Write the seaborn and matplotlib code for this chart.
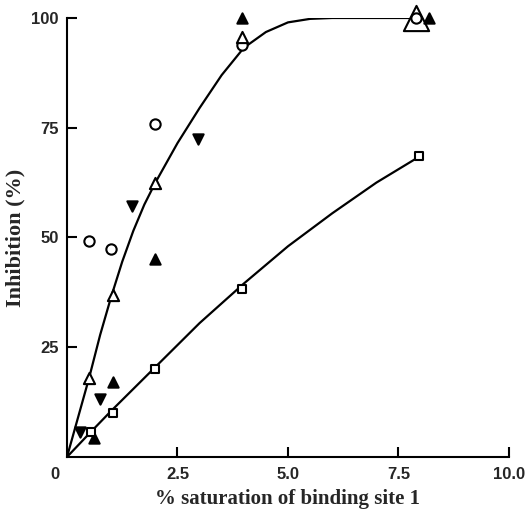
import numpy as np
import pandas as pd
import matplotlib
matplotlib.use('Agg')
import matplotlib.pyplot as plt
import matplotlib.transforms as mtransforms
import seaborn as sns

# ---------- data ----------
open_circle_x = [0.5, 1.0, 2.0, 3.95, 7.9]
open_circle_y = [49.2, 47.4, 75.8, 93.8, 100.0]

open_tri_x = [0.5, 1.03, 2.0, 3.95]
open_tri_y = [18.0, 36.9, 62.4, 95.6]

big_tri_x = [7.9]
big_tri_y = [100.0]

filled_tri_x = [0.6, 1.03, 2.0, 3.95, 8.2]
filled_tri_y = [4.3, 17.0, 45.0, 100.0, 100.0]

inv_tri_x = [0.29, 0.74, 1.46, 2.96]
inv_tri_y = [5.7, 13.2, 57.2, 72.4]

square_x = [0.55, 1.03, 2.0, 3.97, 7.97]
square_y = [5.7, 10.0, 20.0, 38.3, 68.6]

# fitted curves as drawn in the figure
upper_curve_x = [0, 0.25, 0.5, 0.75, 1.0, 1.25, 1.5, 1.75, 2.0, 2.5, 3.0, 3.5,
                 4.0, 4.5, 5.0, 5.5, 6.0, 7.0, 7.9]
upper_curve_y = [0, 9, 18, 27.8, 36.5, 44.5, 51.5, 57.5, 62.5, 71.5, 79.5, 87,
                 93.2, 96.8, 99, 99.8, 100, 100, 100]
lower_curve_x = [0, 0.5, 1, 2, 3, 4, 5, 6, 7, 8]
lower_curve_y = [0, 5.3, 10.5, 20.5, 30.5, 39.5, 48, 55.5, 62.5, 68.6]

x_ticks = [0, 2.5, 5.0, 7.5, 10.0]
x_tick_labels = ['0', '2.5', '5.0', '7.5', '10.0']
y_ticks = [25, 50, 75, 100]
y_tick_labels = ['25', '50', '75', '100']

# ---------- plot ----------
sns.set_theme(style='ticks')
plt.rcParams['font.family'] = ['Liberation Sans', 'DejaVu Sans']

fig = plt.figure(figsize=(5.25, 5.11), dpi=100)
ax = fig.add_axes([0.1276, 0.1057, 0.8419, 0.8591])

sns.lineplot(x=upper_curve_x, y=upper_curve_y, ax=ax, color='black', lw=1.6,
             sort=False, estimator=None)
sns.lineplot(x=lower_curve_x, y=lower_curve_y, ax=ax, color='black', lw=1.6,
             sort=False, estimator=None)

common = dict(ax=ax, edgecolor='black', linewidth=1.5, clip_on=False, zorder=5, legend=False)
sns.scatterplot(x=big_tri_x, y=big_tri_y, marker='^', s=330, facecolor='white', **common)
sns.scatterplot(x=open_circle_x, y=open_circle_y, marker='o', s=55, facecolor='white', **common)
sns.scatterplot(x=open_tri_x, y=open_tri_y, marker='^', s=65, facecolor='white', **common)
sns.scatterplot(x=filled_tri_x, y=filled_tri_y, marker='^', s=55, facecolor='black', **common)
sns.scatterplot(x=inv_tri_x, y=inv_tri_y, marker='v', s=55, facecolor='black', **common)
sns.scatterplot(x=square_x, y=square_y, marker='s', s=38, facecolor='white', **common)

ax.set_xlim(0, 10)
ax.set_ylim(0, 100)
sns.despine(ax=ax)
for sp in ['left', 'bottom']:
    ax.spines[sp].set_linewidth(1.5)
    ax.spines[sp].set_color('black')

ax.set_xticks(x_ticks)
ax.set_xticklabels(x_tick_labels, fontsize=12, fontweight='bold')
ax.set_yticks(y_ticks)
ax.set_yticklabels(y_tick_labels, fontsize=12, fontweight='bold')
ax.tick_params(axis='both', direction='in', length=7, width=1.5, color='black')
ax.tick_params(axis='x', pad=7)
ax.tick_params(axis='y', pad=6)

# the shared origin label sits left of the origin
zero_lab = ax.get_xticklabels()[0]
zero_lab.set_transform(zero_lab.get_transform() +
                       mtransforms.ScaledTranslation(-12 / 100, 0, fig.dpi_scale_trans))
ax.xaxis.get_major_ticks()[0].tick1line.set_visible(False)

ax.set_xlabel('% saturation of binding site 1', fontsize=15, fontweight='bold',
              family='Liberation Serif', labelpad=5)
ax.set_ylabel('Inhibition (%)', fontsize=16, fontweight='bold',
              family='Liberation Serif', labelpad=4)

fig.savefig('out.png', dpi=100, facecolor='white')
plt.close(fig)
